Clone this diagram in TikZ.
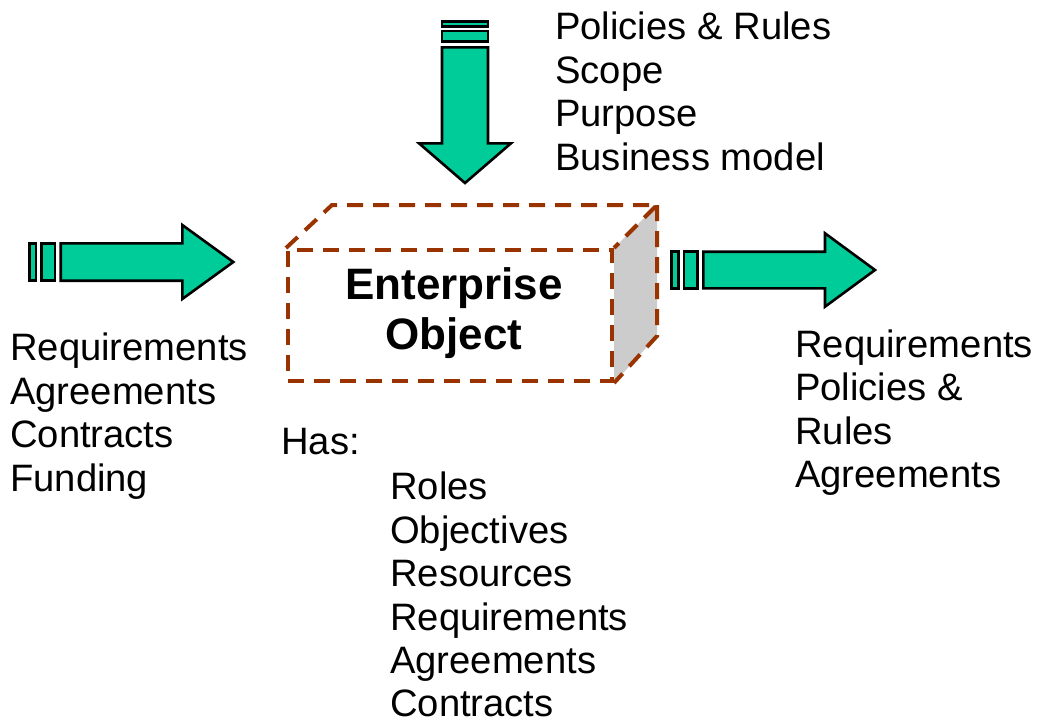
\documentclass[tikz,border=0pt]{standalone}
\usepackage{fontspec}
\setmainfont{Liberation Sans}
\definecolor{arrowgreen}{HTML}{00CC99}
\definecolor{boxbrown}{HTML}{993300}
\definecolor{sidegray}{HTML}{CCCCCC}
\tikzset{
  greenshape/.style={fill=arrowgreen, draw=black, line width=2.6pt, line join=miter},
  boxline/.style={draw=boxbrown, line width=4pt, dash pattern=on 16pt off 10pt},
  txt/.style={anchor=base west, inner sep=0pt, font=\fontsize{38.2}{43.5}\selectfont},
  titletxt/.style={align=center, inner sep=0pt, font=\bfseries\fontsize{44}{50}\selectfont}
}
\begin{document}
\begin{tikzpicture}[x=1pt,y=-1pt]
\useasboundingbox (0,0) rectangle (1039,720);

% ---- down arrow (top)
\draw[greenshape] (442,21.7) rectangle (488,26.7);
\draw[greenshape] (442,31) rectangle (488,41.7);
\draw[greenshape] (442,47.3) -- (442,143.3) -- (419,143.3) -- (465,183) -- (511,143.3) -- (488,143.3) -- (488,47.3) -- cycle;

% ---- left arrow
\draw[greenshape] (29.3,243.3) rectangle (36,280.7);
\draw[greenshape] (41.7,243.3) rectangle (55,280.7);
\draw[greenshape] (60.7,243.3) -- (182.3,243.3) -- (182.3,225) -- (233.3,262) -- (182.3,299) -- (182.3,280.7) -- (60.7,280.7) -- cycle;

% ---- right arrow
\draw[greenshape] (671.7,251.7) rectangle (678.3,288.3);
\draw[greenshape] (684,251.7) rectangle (697.3,288.3);
\draw[greenshape] (703.3,251.7) -- (825,251.7) -- (825,233.3) -- (875,270) -- (825,306.7) -- (825,288.3) -- (703.3,288.3) -- cycle;

% ---- box (enterprise object)
\node[boxline, rectangle, minimum width=324pt, minimum height=131pt, inner sep=0pt] (front) at (450,315.5) {};
\coordinate (btl) at (332,205);
\coordinate (btr) at (657,205);
\coordinate (bbr) at (657,336);
\fill[sidegray] (front.north east) -- (btr) -- (bbr) -- (front.south east) -- cycle;
\draw[boxline] (front.north west) -- (btl) -- (btr) -- (front.north east);
\draw[boxline] (btr) -- (bbr) -- (front.south east);
\node[titletxt] (eo) at (454,313) {Enterprise\\Object};

% ---- top-right text
\node[txt] (t1) at (555,39.5) {Policies \& Rules};
\node[txt] (t2) at (555,83) {Scope};
\node[txt] (t3) at (555,126.5) {Purpose};
\node[txt] (t4) at (555,170) {Business model};

% ---- left text
\node[txt] (l1) at (10,360.5) {Requirements};
\node[txt] (l2) at (10,404) {Agreements};
\node[txt] (l3) at (10,447.5) {Contracts};
\node[txt] (l4) at (10,491) {Funding};

% ---- right text
\node[txt] (r1) at (795,357) {Requirements};
\node[txt] (r2) at (795,400.5) {Policies \&};
\node[txt] (r3) at (795,444) {Rules};
\node[txt] (r4) at (795,487.5) {Agreements};

% ---- has text
\node[txt] (has) at (281,454) {Has:};
\node[txt] (h1) at (390,499.5) {Roles};
\node[txt] (h2) at (390,543) {Objectives};
\node[txt] (h3) at (390,586.5) {Resources};
\node[txt] (h4) at (390,630) {Requirements};
\node[txt] (h5) at (390,673.5) {Agreements};
\node[txt] (h6) at (390,716.5) {Contracts};
\end{tikzpicture}
\end{document}
